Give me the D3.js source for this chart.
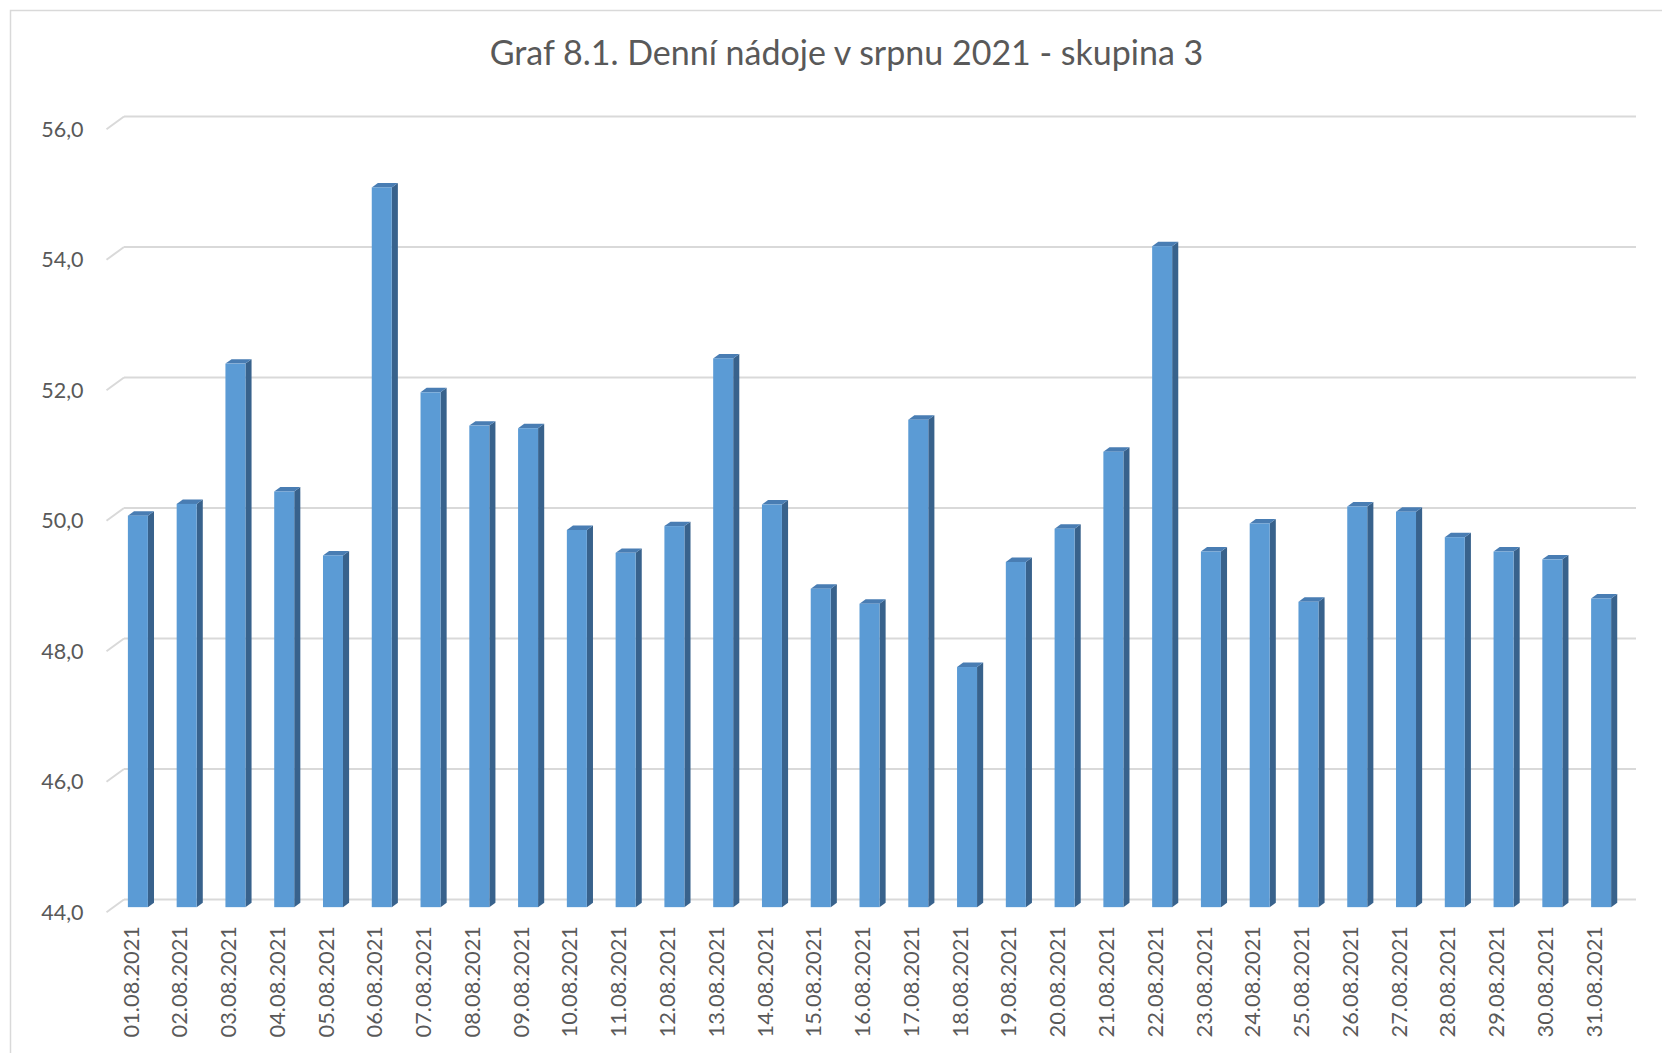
<!DOCTYPE html>
<html>
<head>
<meta charset="utf-8">
<script src="https://cdn.jsdelivr.net/npm/d3@7"></script>
<style>
  html, body { margin: 0; padding: 0; background: #fff; }
  #chart { width: 1662px; height: 1053px; }
</style>
</head>
<body>
<div id="chart"></div>
<script>
const titleText = "Graf 8.1. Denní nádoje v srpnu 2021 - skupina 3";

const dates = [
  "01.08.2021", "02.08.2021", "03.08.2021", "04.08.2021", "05.08.2021", "06.08.2021",
  "07.08.2021", "08.08.2021", "09.08.2021", "10.08.2021", "11.08.2021", "12.08.2021",
  "13.08.2021", "14.08.2021", "15.08.2021", "16.08.2021", "17.08.2021", "18.08.2021",
  "19.08.2021", "20.08.2021", "21.08.2021", "22.08.2021", "23.08.2021", "24.08.2021",
  "25.08.2021", "26.08.2021", "27.08.2021", "28.08.2021", "29.08.2021", "30.08.2021",
  "31.08.2021"
];

const yields = [
  50.00, 50.18, 52.33, 50.37, 49.39, 55.03,
  51.89, 51.38, 51.34, 49.78, 49.43, 49.84,
  52.41, 50.17, 48.88, 48.65, 51.47, 47.68,
  49.29, 49.80, 50.98, 54.13, 49.45, 49.88,
  48.68, 50.14, 50.06, 49.67, 49.45, 49.33,
  48.73
];

const yTicks = [44, 46, 48, 50, 52, 54, 56];

const width = 1662;
const height = 1053;

// back wall of the pseudo 3D plot
const wall = { left: 124, right: 1636, top: 116.5, bottom: 899.5 };
// offset from back wall to front edge of the floor
const depth = { dx: -17.5, dy: 12.75 };
const barDepth = { back: 0.25, front: 0.6 };
const barShare = 0.41;

const colors = {
  front: "#5b9bd5",
  side: "#38628c",
  top: "#497db3",
  grid: "#d9d9d9",
  text: "#595959"
};

const font = "Lato, 'Open Sans', sans-serif";

const svg = d3.select("#chart").append("svg")
  .attr("width", width)
  .attr("height", height);

svg.append("rect")
  .attr("x", 10.5)
  .attr("y", 10.5)
  .attr("width", width + 20)
  .attr("height", height + 20)
  .attr("fill", "#fff")
  .attr("stroke", colors.grid)
  .attr("stroke-width", 1.5);

const x = d3.scaleBand()
  .domain(dates)
  .range([wall.left, wall.right])
  .padding(0);

const y = d3.scaleLinear()
  .domain([yTicks[0], yTicks[yTicks.length - 1]])
  .range([wall.bottom, wall.top]);

const project = (px, py, z) => [px + depth.dx * z, py + depth.dy * z];
const pts = arr => arr.map(p => p.join(",")).join(" ");

// gridlines on the back wall + the short diagonal on the left side wall
const grid = svg.append("g");
yTicks.forEach(t => {
  grid.append("line")
    .attr("x1", wall.left).attr("x2", wall.right)
    .attr("y1", y(t)).attr("y2", y(t))
    .attr("stroke", colors.grid).attr("stroke-width", 2);
  const f = project(wall.left, y(t), 1);
  grid.append("line")
    .attr("x1", wall.left).attr("y1", y(t))
    .attr("x2", f[0]).attr("y2", f[1])
    .attr("stroke", colors.grid).attr("stroke-width", 2);
});

// y labels sit at the front edge of the side wall
const yFront = y.copy().range([wall.bottom + depth.dy, wall.top + depth.dy]);
const cz = d3.formatLocale({ decimal: ",", thousands: " ", grouping: [3], currency: ["", " Kč"] });

svg.append("g")
  .attr("transform", `translate(${wall.left + depth.dx},0)`)
  .call(d3.axisLeft(yFront).tickValues(yTicks).tickFormat(cz.format(".1f")).tickSize(0).tickPadding(23))
  .call(g => g.select(".domain").remove())
  .selectAll("text")
  .attr("fill", colors.text)
  .style("font-family", font)
  .style("font-size", "21.5px");

// bars
const bw = x.bandwidth();
const bars = svg.append("g");
dates.forEach((d, i) => {
  const v = yields[i];
  const xl = x(d) + bw * (1 - barShare) / 2;
  const xr = xl + bw * barShare;
  const yt = y(v);
  const yb = y(yTicks[0]);
  const zf = barDepth.front, zb = barDepth.back;

  bars.append("polygon")
    .attr("points", pts([project(xr, yt, zf), project(xr, yt, zb), project(xr, yb, zb), project(xr, yb, zf)]))
    .attr("fill", colors.side);

  bars.append("polygon")
    .attr("points", pts([project(xl, yt, zf), project(xr, yt, zf), project(xr, yt, zb), project(xl, yt, zb)]))
    .attr("fill", colors.top);

  const f0 = project(xl, yt, zf);
  const f1 = project(xr, yb, zf);
  bars.append("rect")
    .attr("x", f0[0]).attr("y", f0[1])
    .attr("width", f1[0] - f0[0])
    .attr("height", f1[1] - f0[1])
    .attr("fill", colors.front);
});

// category labels at the front edge of the floor
const xFront = x.copy().range([wall.left + depth.dx, wall.right + depth.dx]);
svg.append("g")
  .attr("transform", `translate(0,926)`)
  .call(d3.axisBottom(xFront).tickSize(0))
  .call(g => g.select(".domain").remove())
  .selectAll("text")
  .attr("transform", "rotate(-90)")
  .attr("x", 0)
  .attr("y", 0)
  .attr("dy", "0.35em")
  .attr("text-anchor", "end")
  .attr("fill", colors.text)
  .style("font-family", font)
  .style("font-size", "21.8px");

// title, fitted to the width it takes in the original
const title = svg.append("text")
  .attr("x", 846.5)
  .attr("y", 65)
  .attr("text-anchor", "middle")
  .attr("fill", colors.text)
  .style("font-family", font)
  .style("font-size", "34px")
  .text(titleText);

const tw = title.node().getComputedTextLength();
if (tw > 0) title.style("font-size", (34 * 714 / tw).toFixed(1) + "px");
</script>
</body>
</html>
